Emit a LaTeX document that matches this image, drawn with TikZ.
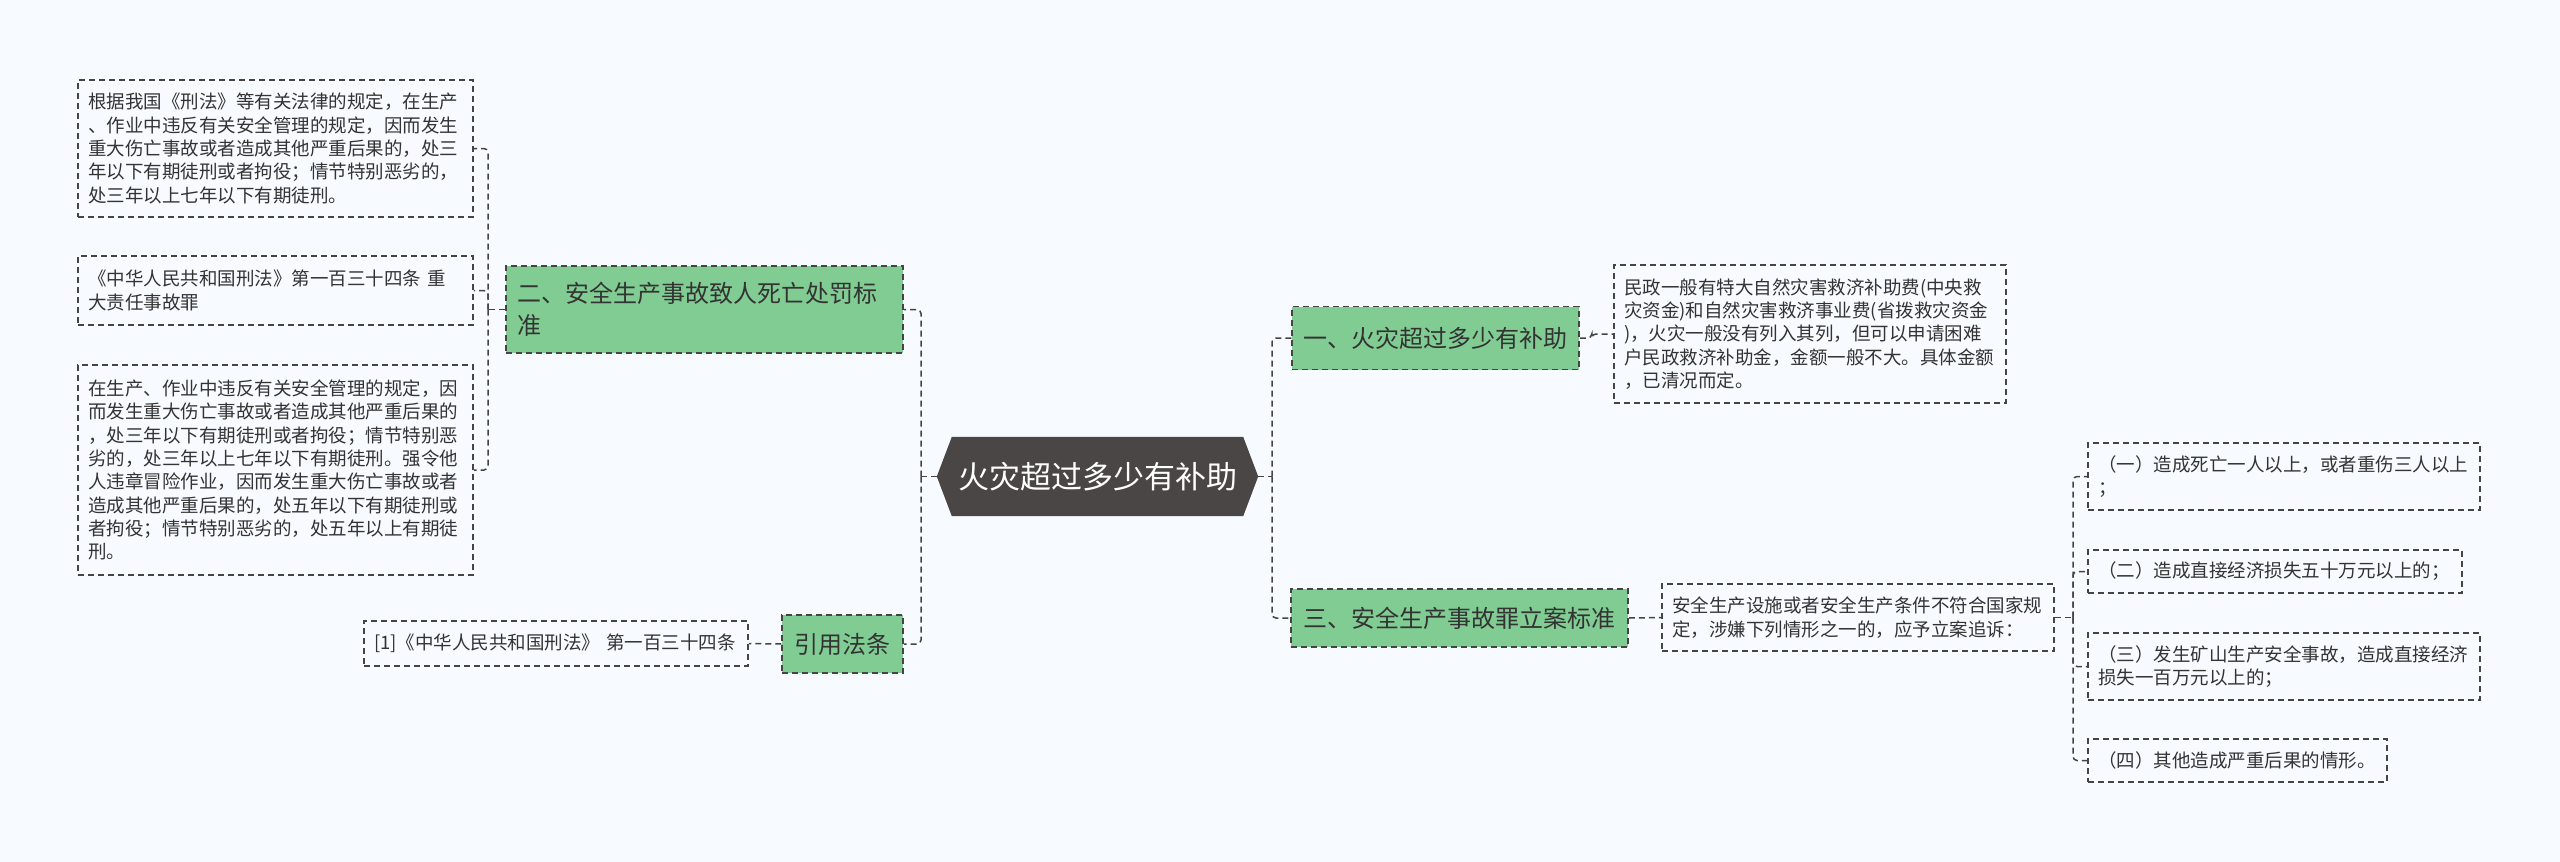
\documentclass[tikz,border=0pt]{standalone}
\usepackage{fontspec}
\setmainfont{Noto Sans CJK SC}
\usetikzlibrary{backgrounds}
\definecolor{bg}{RGB}{247,251,255}
\definecolor{leaf}{RGB}{128,204,146}
\definecolor{rootc}{RGB}{75,70,70}
\definecolor{lnc}{RGB}{68,68,68}
\definecolor{txt}{RGB}{51,51,51}
\tikzset{
 dsh/.style={dash pattern=on 6pt off 4pt, line width=1.5pt},
 leafbox/.style={dsh, draw=lnc, inner xsep=10pt, inner ysep=0pt, align=left, text=txt, font=\fontsize{18.5}{23.3}\selectfont},
 topic/.style={dsh, draw=lnc, fill=leaf, inner xsep=11pt, inner ysep=0pt, text=txt, font=\fontsize{24}{32}\selectfont},
 link/.style={dsh, draw=lnc, rounded corners=4pt},
 rootnode/.style={inner sep=0pt, text=white, font=\fontsize{31}{36}\selectfont},
}
\begin{document}
\begin{tikzpicture}[x=1pt,y=-1pt]
\useasboundingbox (0,0) rectangle (2560,862);

% root
\node[rootnode, minimum width=321pt, minimum height=79pt] (root) at (1097.5,476.5) {火灾超过多少有补助};

% left side
\node[topic, minimum width=397pt, text width=375pt, minimum height=87pt, align=left] (n2) at (704.5,309.5) {二、安全生产事故致人死亡处罚标\\准};
\node[topic, minimum width=121pt, minimum height=58pt, align=center, inner xsep=4pt] (cite) at (842.5,644) {引用法条};
\node[leafbox, minimum width=384pt, text width=364pt, minimum height=45pt] (ref1) at (556,643.5) {[1]《中华人民共和国刑法》 第一百三十四条};

\node[leafbox, minimum width=395pt, text width=375pt, minimum height=137pt] (A) at (275.5,148.5) {根据我国《刑法》等有关法律的规定，在生产\\、作业中违反有关安全管理的规定，因而发生\\重大伤亡事故或者造成其他严重后果的，处三\\年以下有期徒刑或者拘役；情节特别恶劣的，\\处三年以上七年以下有期徒刑。};
\node[leafbox, minimum width=395pt, text width=375pt, minimum height=69pt] (B) at (275.5,290.5) {《中华人民共和国刑法》第一百三十四条 重\\大责任事故罪};
\node[leafbox, minimum width=395pt, text width=375pt, minimum height=210pt] (C) at (275.5,470) {在生产、作业中违反有关安全管理的规定，因\\而发生重大伤亡事故或者造成其他严重后果的\\，处三年以下有期徒刑或者拘役；情节特别恶\\劣的，处三年以上七年以下有期徒刑。强令他\\人违章冒险作业，因而发生重大伤亡事故或者\\造成其他严重后果的，处五年以下有期徒刑或\\者拘役；情节特别恶劣的，处五年以上有期徒\\刑。};

% right side
\node[topic, minimum width=287pt, minimum height=63pt, align=center] (n1) at (1435.5,338) {一、火灾超过多少有补助};
\node[leafbox, minimum width=392pt, text width=372pt, minimum height=138pt] (mz) at (1810,334) {民政一般有特大自然灾害救济补助费(中央救\\灾资金)和自然灾害救济事业费(省拨救灾资金\\)，火灾一般没有列入其列，但可以申请困难\\户民政救济补助金，金额一般不大。具体金额\\，已清况而定。};

\node[topic, minimum width=337pt, minimum height=58pt, align=center] (n3) at (1459.5,618) {三、安全生产事故罪立案标准};
\node[leafbox, minimum width=392pt, text width=372pt, minimum height=67pt] (aq) at (1858,617.5) {安全生产设施或者安全生产条件不符合国家规\\定，涉嫌下列情形之一的，应予立案追诉：};

\node[leafbox, minimum width=392pt, text width=372pt, minimum height=67pt] (i1) at (2284,476.5) {（一）造成死亡一人以上，或者重伤三人以上\\；};
\node[leafbox, minimum width=374pt, text width=354pt, minimum height=43pt] (i2) at (2275,571.5) {（二）造成直接经济损失五十万元以上的；};
\node[leafbox, minimum width=392pt, text width=372pt, minimum height=67pt] (i3) at (2284,666.5) {（三）发生矿山生产安全事故，造成直接经济\\损失一百万元以上的；};
\node[leafbox, minimum width=299pt, text width=279pt, minimum height=43pt] (i4) at (2237.5,760.5) {（四）其他造成严重后果的情形。};

% background and hexagon
\begin{pgfonlayer}{background}
\fill[bg] (0,0) rectangle (2560,862);
\fill[rootc] (root.west) -- ([xshift=15pt]root.north west) -- ([xshift=-15pt]root.north east) -- (root.east) -- ([xshift=-15pt]root.south east) -- ([xshift=15pt]root.south west) -- cycle;
\end{pgfonlayer}

% spine coordinates
\coordinate (ls) at (921,476.5);
\coordinate (ls2) at (488,309.5);
\coordinate (rs) at (1272,476.5);
\coordinate (rs2) at (2073,617.5);

% connectors
\draw[link] (root.west) -- (ls);
\draw[link] (ls) |- (n2.east);
\draw[link] (ls) |- (cite.east);
\draw[link] (n2.west) -- (ls2);
\draw[link] (ls2) |- (A.east);
\draw[link] (ls2) |- (B.east);
\draw[link] (ls2) |- (C.east);
\draw[link] (cite.west) -- (ref1.east);

\draw[link] (root.east) -- (rs);
\draw[link] (rs) |- (n1.west);
\draw[link] (rs) |- (n3.west);
\draw[link] (n1.east) -- ++(12,0) |- (mz.west);
\draw[link] (n3.east) -- (aq.west);
\draw[link] (aq.east) -- (rs2);
\draw[link] (rs2) |- (i1.west);
\draw[link] (rs2) |- (i2.west);
\draw[link] (rs2) |- (i3.west);
\draw[link] (rs2) |- (i4.west);
\end{tikzpicture}
\end{document}
